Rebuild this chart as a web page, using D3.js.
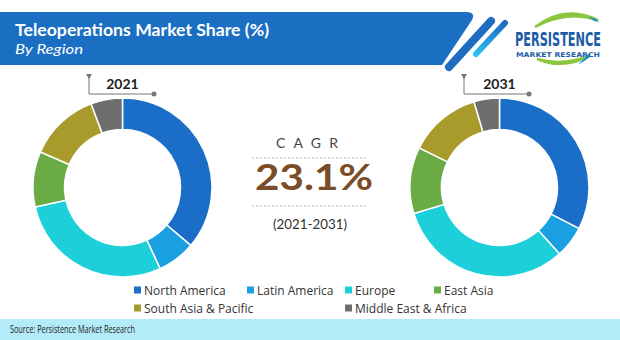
<!DOCTYPE html>
<html><head><meta charset="utf-8">
<script src="https://cdn.jsdelivr.net/npm/d3@7/dist/d3.min.js"></script>
<style>html,body{margin:0;padding:0;background:#fff}svg{display:block}</style>
</head><body>
<svg id="chart" width="620" height="340"></svg>
<script>
const regions = ["North America","Latin America","Europe","East Asia","South Asia & Pacific","Middle East & Africa"];
const colors = ["#1a6ec8","#1a9fe0","#1ccfd9","#6aab45","#a99b2b","#6e6e6e"];
const share2021 = [36.2, 6.9, 28.4, 10.0, 12.8, 5.7];
const share2031 = [32.6, 5.7, 32.0, 12.0, 13.1, 4.6];
const years = ["2021","2031"];
const cagrLabel = "CAGR";
const cagrValue = "23.1%";
const cagrPeriod = "(2021-2031)";

const svg = d3.select("#chart");
const font = "'Lato','Open Sans',sans-serif";

// Title bar
svg.append("path")
  .attr("d","M0,12 L466,12 Q476,12 472,20 L442,65 L0,65 Z")
  .attr("fill","#1b6fc2");
svg.append("line").attr("x1",491).attr("y1",21).attr("x2",449).attr("y2",67)
  .attr("stroke","#1d6cbf").attr("stroke-width",8).attr("stroke-linecap","round");
const grad = svg.append("defs").append("linearGradient").attr("id","sg")
  .attr("x1","0").attr("y1","0").attr("x2","0").attr("y2","1");
grad.append("stop").attr("offset","0").attr("stop-color","#1d6cbf");
grad.append("stop").attr("offset","1").attr("stop-color","#30bdf0");
svg.append("line").attr("x1",505).attr("y1",23).attr("x2",476).attr("y2",54)
  .attr("stroke","url(#sg)").attr("stroke-width",6).attr("stroke-linecap","round");

svg.append("text").attr("x",15).attr("y",35.5)
  .attr("font-family",font).attr("font-weight","bold").attr("font-size",17.5)
  .attr("fill","#fff").attr("textLength",254).attr("lengthAdjust","spacingAndGlyphs")
  .text("Teleoperations Market Share (%)");
svg.append("text").attr("x",15).attr("y",54)
  .attr("font-family",font).attr("font-style","italic").attr("font-size",14)
  .attr("fill","#fff").attr("textLength",68).attr("lengthAdjust","spacingAndGlyphs")
  .text("By Region");

// Logo
const logo = svg.append("g");
logo.append("path").attr("d","M535,27 Q565,4 598,20 Q566,10 535,27 Z")
  .attr("fill","#8cc63f").attr("stroke","#8cc63f").attr("stroke-width",2.5);
logo.append("path").attr("d","M589,17 Q596,18 599,22 L594,21 Z").attr("fill","#1d8fd6");
logo.append("path").attr("d","M537,59 Q563,70 590,56 Q563,66 537,59 Z")
  .attr("fill","#8cc63f").attr("stroke","#8cc63f").attr("stroke-width",2.5);
logo.append("path").attr("d","M590,56 Q585,62 578,64 Q585,59 588,54 Z").attr("fill","#1d8fd6");
logo.append("g").attr("transform","translate(515,45.5) scale(1,1.45)")
  .append("text").attr("x",0).attr("y",0)
  .attr("font-family","'Liberation Sans Narrow','DejaVu Sans Condensed',sans-serif").attr("font-weight","bold").attr("font-size",13)
  .attr("fill","#1c5da6").attr("textLength",86).attr("lengthAdjust","spacingAndGlyphs")
  .text("PERSISTENCE");
logo.append("text").attr("x",516).attr("y",57)
  .attr("font-family","'DejaVu Sans',sans-serif").attr("font-weight","bold").attr("font-size",6.5)
  .attr("fill","#1c5da6").attr("textLength",84).attr("lengthAdjust","spacingAndGlyphs")
  .text("MARKET RESEARCH");

// Donuts
const pie = d3.pie().sort(null).value(d => d);
const arc = d3.arc().innerRadius(58).outerRadius(89.5);
const donuts = [
  {cx:122.5, cy:187.5, data:share2021, year:years[0], bx:89, ex:154},
  {cx:499.5, cy:187.5, data:share2031, year:years[1], bx:464, ex:529}
];
donuts.forEach(dn => {
  const g = svg.append("g").attr("transform",`translate(${dn.cx},${dn.cy})`);
  g.selectAll("path").data(pie(dn.data)).join("path")
    .attr("d",arc).attr("fill",(d,i)=>colors[i])
    .attr("stroke","#fff").attr("stroke-width",1.5);
  svg.append("path").attr("d",`M${dn.bx},76 L${dn.bx},94 L${dn.ex},94`)
    .attr("fill","none").attr("stroke","#777").attr("stroke-width",1);
  svg.append("path").attr("d",`M${dn.bx-3},74 L${dn.bx+3},74 L${dn.bx},79 Z`).attr("fill","#777");
  svg.append("circle").attr("cx",dn.ex).attr("cy",94).attr("r",2.5).attr("fill","#777");
  svg.append("text").attr("x",dn.cx).attr("y",88.5).attr("text-anchor","middle")
    .attr("font-family",font).attr("font-weight","bold").attr("font-size",14)
    .attr("fill","#222").text(dn.year);
});

// CAGR
svg.append("text").attr("x",276).attr("y",148)
  .attr("font-family",font).attr("font-size",14).attr("fill","#444")
  .attr("textLength",62).attr("lengthAdjust","spacing").text(cagrLabel);
[158,206].forEach(y => svg.append("line").attr("x1",252).attr("x2",367).attr("y1",y).attr("y2",y)
  .attr("stroke","#b5b5b5").attr("stroke-width",1).attr("stroke-dasharray","2,2"));
svg.append("text").attr("x",255).attr("y",189.5)
  .attr("font-family",font).attr("font-weight","bold").attr("font-size",37)
  .attr("fill","#7a4c28").attr("textLength",118).attr("lengthAdjust","spacingAndGlyphs")
  .text(cagrValue);
svg.append("text").attr("x",310).attr("y",229).attr("text-anchor","middle")
  .attr("font-family",font).attr("font-size",14).attr("fill","#333")
  .attr("textLength",74).attr("lengthAdjust","spacingAndGlyphs")
  .text(cagrPeriod);

// Legend
const legendPos = [[134,290],[247,290],[345,290],[434,290],[134,308],[345,308]];
const lg = svg.append("g").selectAll("g").data(regions).join("g")
  .attr("transform",(d,i)=>`translate(${legendPos[i][0]},${legendPos[i][1]})`);
lg.append("rect").attr("x",0).attr("y",-3.5).attr("width",7).attr("height",7)
  .attr("fill",(d,i)=>colors[i]);
lg.append("text").attr("x",10).attr("y",4.5)
  .attr("font-family","'Open Sans',sans-serif").attr("font-size",12).attr("fill","#333")
  .text(d=>d);

// Source bar
svg.append("rect").attr("x",0).attr("y",319).attr("width",620).attr("height",21).attr("fill","#b3ebf8");
svg.append("text").attr("x",10).attr("y",333)
  .attr("font-family","'Open Sans',sans-serif").attr("font-size",10).attr("fill","#222")
  .attr("textLength",125).attr("lengthAdjust","spacingAndGlyphs")
  .text("Source: Persistence Market Research");
</script>
</body></html>
